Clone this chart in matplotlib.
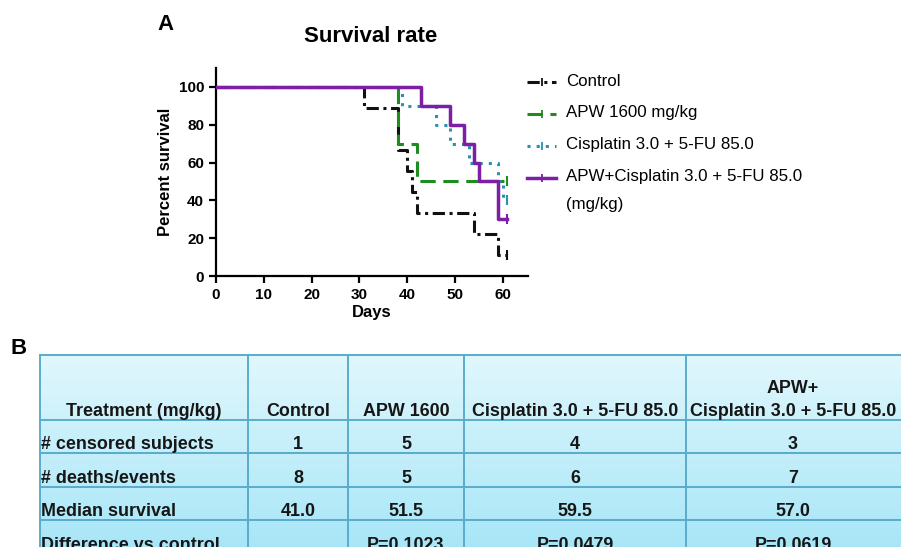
import numpy as np
import matplotlib
matplotlib.use("Agg")
import matplotlib.pyplot as plt
from matplotlib.lines import Line2D

plt.rcParams['font.family'] = ['Liberation Sans', 'DejaVu Sans']

# survival curves (Kaplan-Meier steps, % survival)
ctrl_t = [0, 31, 38, 40, 41, 42, 54, 59, 61]
ctrl_s = [100, 88.9, 66.7, 55.6, 44.4, 33.3, 22.2, 11.1, 11.1]
apw_t = [0, 38, 42, 61]
apw_s = [100, 70, 50, 50]
cis_t = [0, 39, 46, 49, 53, 59, 60, 61]
cis_s = [100, 90, 80, 70, 60, 50, 40, 40]
combo_t = [0, 43, 49, 52, 54, 55, 59, 61]
combo_s = [100, 90, 80, 70, 60, 50, 30, 30]

labels = ["Control", "APW 1600 mg/kg", "Cisplatin 3.0 + 5-FU 85.0",
          "APW+Cisplatin 3.0 + 5-FU 85.0\n(mg/kg)"]
colors = ["#111111", "#1f8c1f", "#2a90b0", "#7d1fa5"]
styles = [(0, (4, 1.5, 1, 1.5)), (0, (5, 2.5)), (0, (1, 2)), "-"]
widths = [2.2, 2.2, 2.2, 2.5]

# table B
col_heads = ["Treatment (mg/kg)", "Control", "APW 1600",
             "Cisplatin 3.0 + 5-FU 85.0", "APW+\nCisplatin 3.0 + 5-FU 85.0"]
row_names = ["# censored subjects", "# deaths/events", "Median survival",
             "Difference vs control"]
censored = ["1", "5", "4", "3"]
deaths = ["8", "5", "6", "7"]
median = ["41.0", "51.5", "59.5", "57.0"]
pvals = ["", "P=0.1023", "P=0.0479", "P=0.0619"]

W, H = 901, 547
fig = plt.figure(figsize=(W / 100, H / 100), dpi=100)

# overlay in pixel coords for legend, labels and table
ov = fig.add_axes([0, 0, 1, 1])
ov.axis("off")

ax = fig.add_axes([216 / W, (H - 276) / H, (528 - 216) / W, (276 - 68) / H])
ax.patch.set_alpha(0)
curves = [(ctrl_t, ctrl_s), (apw_t, apw_s), (cis_t, cis_s), (combo_t, combo_s)]
for (t, s), c, ls, lw in zip(curves, colors, styles, widths):
    ax.step(t, s, where="post", color=c, ls=ls, lw=lw, zorder=3)
    ax.plot(t[-1], s[-1], marker="|", ms=7, mew=1.5, color=c, zorder=4)

ax.set_xlim(0, 65.3)
ax.set_ylim(0, 110)
ax.set_xticks(range(0, 61, 10))
ax.set_yticks(range(0, 101, 20))
for sp in ["top", "right"]:
    ax.spines[sp].set_visible(False)
for sp in ["left", "bottom"]:
    ax.spines[sp].set_linewidth(1.6)
ax.tick_params(direction="out", length=5, width=1.6, labelsize=11)
for lab in ax.get_xticklabels() + ax.get_yticklabels():
    lab.set_fontweight("bold")
ax.set_xlabel("Days", fontsize=12, fontweight="bold", labelpad=2)
ax.set_ylabel("Percent survival", fontsize=12, fontweight="bold", labelpad=4)

ov.text(157, 24, "A", fontsize=16, fontweight="bold", va="center")
ov.text(371, 36, "Survival rate", fontsize=16, fontweight="bold",
        ha="center", va="center")

# legend
leg_y = [82, 114, 146, 178]
for y, lab, c, ls, lw in zip(leg_y, labels, colors, styles, widths):
    ov.add_line(Line2D([527, 556], [y, y], color=c, ls=ls, lw=lw))
    ov.add_line(Line2D([542], [y], marker="|", ms=6, mew=1.3, color=c))
    ov.text(566, y - 1, lab.split("\n")[0], fontsize=12.2, va="center")
ov.text(566, 204, "(mg/kg)", fontsize=12.2, va="center")

# panel B table
ov.text(10, 348, "B", fontsize=16, fontweight="bold", va="center")
xs = [40, 248, 348, 464, 686, 910]
ys = [355, 420, 453, 487, 520, 554]
grad = np.linspace(0, 1, 256).reshape(-1, 1)
top = np.array([0.88, 0.97, 0.99])
bot = np.array([0.65, 0.90, 0.97])
img = top + (bot - top) * grad[..., None]
ov.imshow(img, extent=[xs[0], xs[-1], ys[-1], ys[0]], aspect="auto", zorder=0)
ov.set_xlim(0, W)
ov.set_ylim(H, 0)
edge = "#5aaccc"
for x in xs:
    ov.add_line(Line2D([x, x], [ys[0], ys[-1]], color=edge, lw=1.4))
for y in ys:
    ov.add_line(Line2D([xs[0], xs[-1]], [y, y], color=edge, lw=1.4))

tc = "#161616"
fs = 12.9
for i, head in enumerate(col_heads):
    cx = (xs[i] + xs[i + 1]) / 2
    if i == len(col_heads) - 1:
        cx = 793
    ov.text(cx, ys[1] - 4, head, fontsize=fs, fontweight="bold", color=tc,
            ha="center", va="baseline", linespacing=1.45)
rows = [censored, deaths, median, pvals]
for r, (name, vals) in enumerate(zip(row_names, rows)):
    yb = ys[r + 2] - 4
    ov.text(xs[0] + 1, yb, name, fontsize=fs, fontweight="bold", color=tc,
            va="baseline")
    for j, v in enumerate(vals):
        cx = (xs[j + 1] + xs[j + 2]) / 2
        if j == len(vals) - 1:
            cx = 793
        ov.text(cx, yb, v, fontsize=fs, fontweight="bold", color=tc,
                ha="center", va="baseline")

fig.savefig("out.png", dpi=100)
